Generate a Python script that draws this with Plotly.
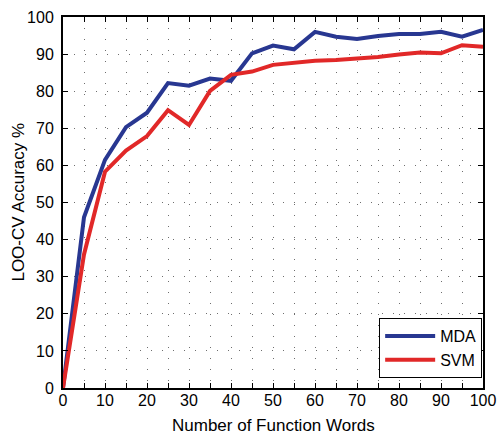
import plotly.graph_objects as go

words = [0, 5, 10, 15, 20, 25, 30, 35, 40, 45, 50, 55, 60, 65, 70, 75, 80, 85, 90, 95, 100]
mda = [0, 46, 61.5, 70.3, 74.2, 82.2, 81.5, 83.4, 82.8, 90.2, 92.3, 91.3, 96.0, 94.7, 94.1, 94.9, 95.4, 95.4, 96.0, 94.7, 96.5]
svm = [0, 36, 58.3, 64.0, 67.9, 74.9, 70.9, 80.1, 84.4, 85.3, 87.1, 87.7, 88.2, 88.4, 88.7, 89.2, 89.9, 90.4, 90.2, 92.4, 92.0]
xticks = list(range(0, 101, 10))
yticks = list(range(0, 101, 10))
x_title = "Number of Function Words"
y_title = "LOO-CV Accuracy %"

FONT = "Liberation Sans, Arial, sans-serif"

fig = go.Figure()
fig.add_trace(go.Scatter(x=words, y=mda, mode="lines", name="MDA",
                         line=dict(color="rgb(40,55,145)", width=4)))
fig.add_trace(go.Scatter(x=words, y=svm, mode="lines", name="SVM",
                         line=dict(color="rgb(225,40,40)", width=4)))

axis_common = dict(showline=True, linecolor="black", linewidth=2, mirror="ticks",
                   ticks="inside", ticklen=5, tickcolor="black", tickwidth=1,
                   zeroline=False, showgrid=True, gridcolor="rgb(110,110,110)",
                   griddash="1px,10px", gridwidth=1, automargin=False,
                   tickfont=dict(family=FONT, size=16, color="black"))

fig.update_xaxes(range=[0, 100], tickvals=xticks, ticklabelstandoff=-3,
                 minor=dict(dtick=5, ticks="inside", ticklen=5, tickcolor="black",
                            showgrid=True, gridcolor="rgb(110,110,110)", griddash="1px,10px"),
                 **axis_common)
fig.update_yaxes(range=[0, 100], tickvals=yticks, ticklabelstandoff=4, **axis_common)

fig.add_annotation(text=x_title, xref="paper", yref="paper", x=0.5, y=-0.102,
                   xanchor="center", yanchor="middle", showarrow=False,
                   font=dict(family=FONT, size=17, color="black"))
fig.add_annotation(text=y_title, xref="paper", yref="paper", x=-0.107, y=0.5,
                   xanchor="center", yanchor="middle", textangle=-90, showarrow=False,
                   font=dict(family=FONT, size=17, color="black"))

fig.update_layout(
    width=497, height=435,
    margin=dict(l=63, r=14, t=17, b=47),
    plot_bgcolor="white", paper_bgcolor="white",
    font=dict(family=FONT, color="black"),
    legend=dict(x=0.998, y=0.027, xanchor="right", yanchor="bottom",
                bordercolor="black", borderwidth=1, bgcolor="white",
                tracegroupgap=0, itemwidth=50,
                font=dict(family=FONT, size=16, color="black")),
)

fig.write_html("out.html", config={"displayModeBar": False},
               post_script="document.body.style.margin='0';")
